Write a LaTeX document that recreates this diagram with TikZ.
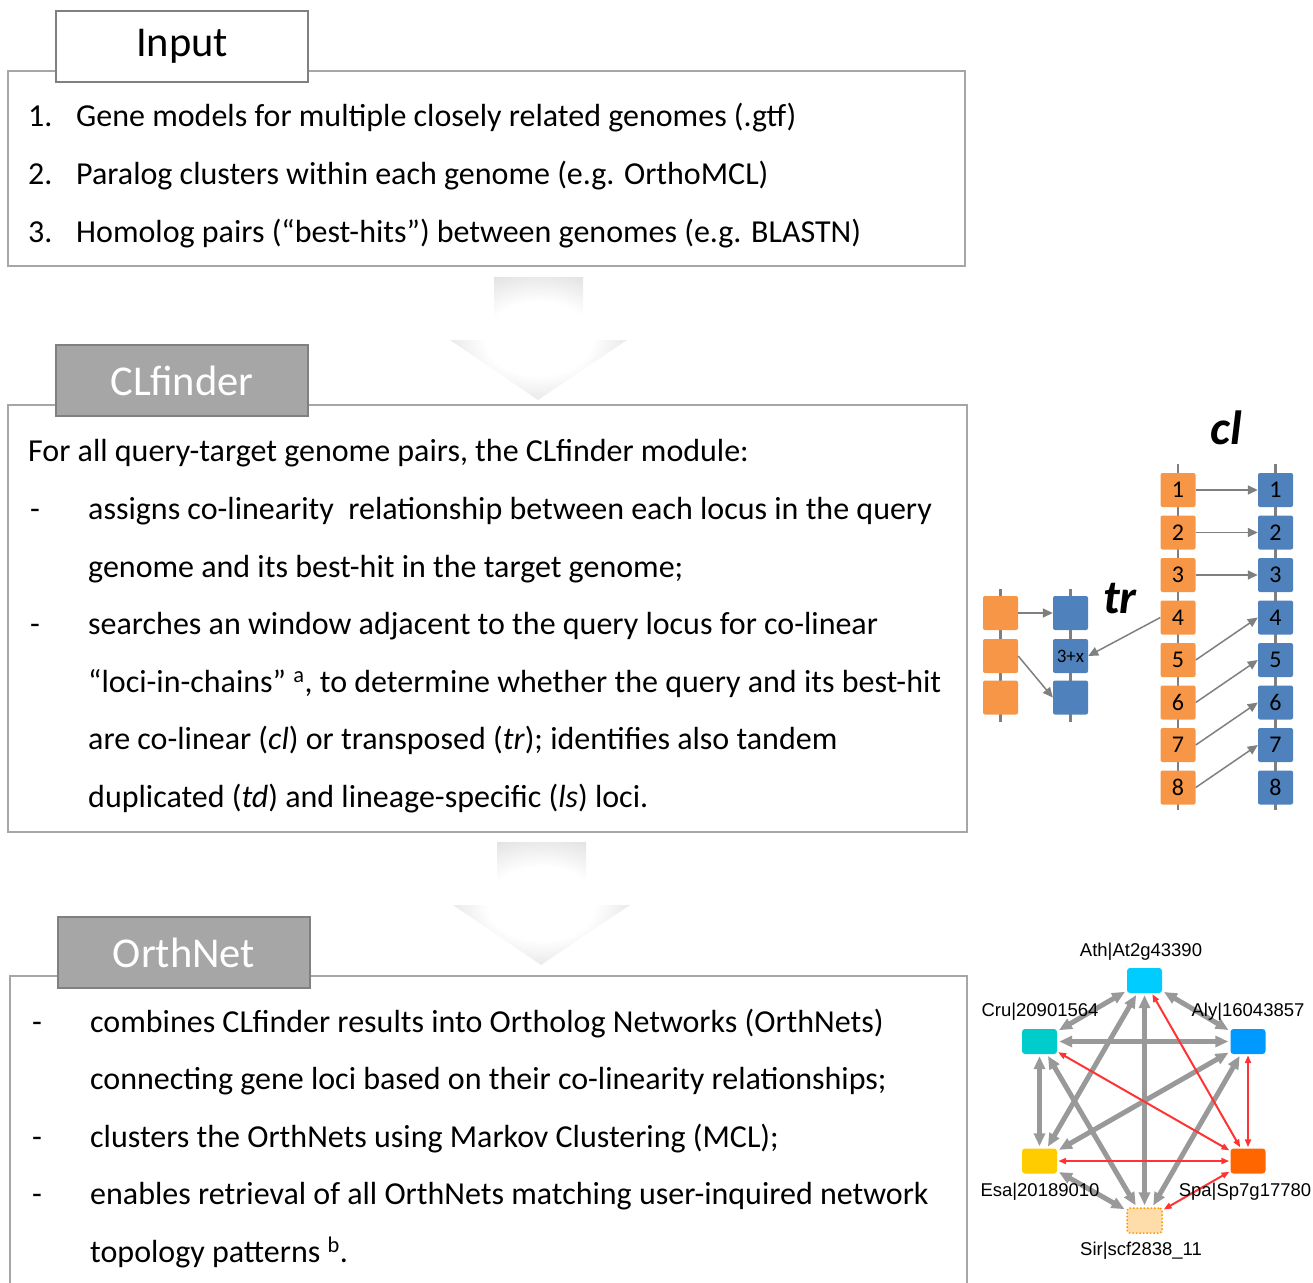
\documentclass[tikz,border=0pt]{standalone}
\usepackage{fontspec}
\setmainfont{Carlito}
\newfontfamily\netfont{Liberation Sans}
\usetikzlibrary{arrows.meta}

\definecolor{tabedge}{HTML}{808080}
\definecolor{panedge}{HTML}{A6A6A6}
\definecolor{tabfill}{HTML}{A6A6A6}
\definecolor{qorange}{HTML}{F79646}
\definecolor{tblue}{HTML}{4F81BD}
\definecolor{linkgray}{HTML}{7F7F7F}
\definecolor{netgray}{HTML}{999999}
\definecolor{netred}{HTML}{FF3333}
\definecolor{athc}{HTML}{00CCFF}
\definecolor{cruc}{HTML}{00CCCC}
\definecolor{alyc}{HTML}{0099FF}
\definecolor{esac}{HTML}{FFCC00}
\definecolor{spac}{HTML}{FF6600}
\definecolor{sirc}{HTML}{FFDDAA}
\definecolor{sire}{HTML}{FF9900}

% soft white-to-grey glow for the flow arrows
\pgfdeclareradialshading{arrowglow}{\pgfpoint{0bp}{0bp}}{%
  color(0bp)=(white); color(15bp)=(white); color(50bp)=(black!30)}

\begin{document}
\begin{tikzpicture}[x=1pt,y=-1pt,
  txt/.style={anchor=base west, inner sep=0pt, font=\fontsize{32}{38}\selectfont},
  tabw/.style={draw=tabedge, line width=2pt, fill=white, minimum width=252pt,
    minimum height=71pt, anchor=north west, inner sep=0pt,
    font=\fontsize{42.5}{50}\selectfont},
  tabg/.style={tabw, fill=tabfill, text=white},
  panel/.style={draw=panedge, line width=2pt},
  flowarrow/.style={shading=arrowglow},
  gbox/.style={minimum width=35pt, minimum height=34pt, inner sep=0pt,
    rounded corners=2pt, font=\fontsize{24}{24}\selectfont},
  gq/.style={gbox, fill=qorange},
  gt/.style={gbox, fill=tblue},
  spine/.style={draw=linkgray, line width=2.5pt},
  link/.style={draw=linkgray, line width=1.5pt, -{Triangle[length=10pt,width=9pt]}},
  tag/.style={inner sep=0pt, font=\fontsize{48}{56}\selectfont\bfseries\itshape},
  nnode/.style={minimum width=35pt, minimum height=25pt, inner sep=0pt, rounded corners=3pt},
  nlabel/.style={inner sep=0pt, font=\netfont\fontsize{18.5}{18.5}\selectfont},
  gedge/.style={draw=netgray, line width=5pt, shorten <=2pt, shorten >=2pt,
    {Triangle[length=13pt,width=11pt]}-{Triangle[length=13pt,width=11pt]}},
  redge/.style={draw=netred, line width=2pt, shorten <=1pt, shorten >=1pt,
    {Triangle[length=8pt,width=6pt]}-{Triangle[length=8pt,width=6pt]}}
]
\useasboundingbox (0,0) rectangle (1313,1282);

% ---------------- Input ----------------
\draw[panel] (8,71) rectangle (965,266);
\node[tabw] (inputtab) at (55,10) {Input};
\node[txt] (in1n) at (28,126) {1.};
\node[txt] (in1) at (76,126) {Gene models for multiple closely related genomes (.gtf)};
\node[txt] (in2n) at (28,184) {2.};
\node[txt] (in2) at (76,184) {Paralog clusters within each genome (e.g. OrthoMCL)};
\node[txt] (in3n) at (28,242) {3.};
\node[txt] (in3) at (76,242) {Homolog pairs (“best-hits”) between genomes (e.g. BLASTN)};

% flow arrow 1
\path[flowarrow] (494,277) -- (583,277) -- (583,340) -- (627,340) -- (538,400)
  -- (450,340) -- (494,340) -- cycle;

% ---------------- CLfinder ----------------
\draw[panel] (8,405) rectangle (967,832);
\node[tabg] (cltab) at (55,344) {CLfinder};
\node[txt] (c1) at (28,461) {For all query-target genome pairs, the CLfinder module:};
\node[txt] (c2d) at (30,519) {-};
\node[txt] (c2) at (88,519) {assigns co-linearity\ \ relationship between each locus in the query};
\node[txt] (c3) at (88,577) {genome and its best-hit in the target genome;};
\node[txt] (c4d) at (30,634) {-};
\node[txt] (c4) at (88,634) {searches an window adjacent to the query locus for co-linear};
\node[txt] (c5) at (88,692) {“loci-in-chains” \textsuperscript{a}, to determine whether the query and its best-hit};
\node[txt] (c6) at (88,749) {are co-linear (\textit{cl}) or transposed (\textit{tr}); identifies also tandem};
\node[txt] (c7) at (88,807) {duplicated (\textit{td}) and lineage-specific (\textit{ls}) loci.};

% flow arrow 2
\path[flowarrow] (497,842) -- (586,842) -- (586,905) -- (630,905) -- (541,965)
  -- (453,905) -- (497,905) -- cycle;

% ---------------- OrthNet ----------------
\draw[panel] (10,1295) -- (10,976) -- (967,976) -- (967,1295);
\node[tabg] (ontab) at (57,916) {OrthNet};
\node[txt] (o1d) at (32,1032) {-};
\node[txt] (o1) at (90,1032) {combines CLfinder results into Ortholog Networks (OrthNets)};
\node[txt] (o2) at (90,1089) {connecting gene loci based on their co-linearity relationships;};
\node[txt] (o3d) at (32,1147) {-};
\node[txt] (o3) at (90,1147) {clusters the OrthNets using Markov Clustering (MCL);};
\node[txt] (o4d) at (32,1204) {-};
\node[txt] (o4) at (90,1204) {enables retrieval of all OrthNets matching user-inquired network};
\node[txt] (o5) at (90,1262) {topology patterns \textsuperscript{b}.};

% ---------------- co-linear / transposed loci ----------------
\draw[spine] (1178,464) -- (1178,810);
\draw[spine] (1275.5,464) -- (1275.5,810);
\draw[spine] (1000.5,589) -- (1000.5,722);
\draw[spine] (1070.5,589) -- (1070.5,722);
\foreach \i/\yy in {1/490,2/532.5,3/575,4/617.5,5/660,6/702.5,7/745,8/787.5}{
  \node[gq] (q\i) at (1178,\yy) {\i};
  \node[gt] (t\i) at (1275.5,\yy) {\i};
}
\node[gq] (a1) at (1000.5,613) {};
\node[gq] (a2) at (1000.5,656) {};
\node[gq] (a3) at (1000.5,697.5) {};
\node[gt] (b1) at (1070.5,613) {};
\node[gt, font=\fontsize{19}{19}\selectfont] (b2) at (1070.5,656) {3+x};
\node[gt] (b3) at (1070.5,697.5) {};

\foreach \i in {1,2,3}{ \draw[link] (q\i.east) -- (t\i.west); }
\foreach \i/\j in {5/4,6/5,7/6,8/7}{ \draw[link] (q\i.east) -- (t\j.west); }
\draw[link] (q4.west) -- (b2.east);
\draw[link] (a1.east) -- (b1.west);
\draw[link] (a2.east) -- (b3.west);

\node[tag] (cltag) at (1226,428) {cl};
\node[tag] (trtag) at (1120,599) {tr};

% ---------------- ortholog network ----------------
\node[nnode, fill=athc] (ath) at (1144.5,980.5) {};
\node[nnode, fill=cruc] (cru) at (1039.5,1041.5) {};
\node[nnode, fill=alyc] (aly) at (1248,1041.5) {};
\node[nnode, fill=esac] (esa) at (1039.5,1161) {};
\node[nnode, fill=spac] (spa) at (1248,1161) {};
\node[nnode, fill=sirc, draw=sire, line width=1.5pt, dotted] (sir) at (1144.5,1220.5) {};

\draw[gedge] (ath) -- (cru);
\draw[gedge] (ath) -- (aly);
\draw[gedge] (cru) -- (aly);
\draw[gedge] (cru) -- (esa);
\draw[gedge] (ath) -- (esa);
\draw[gedge] (ath) -- (sir);
\draw[gedge] (cru) -- (sir);
\draw[gedge] (aly) -- (esa);
\draw[gedge] (aly) -- (sir);
\draw[gedge] (esa) -- (sir);

\draw[redge] (ath) -- (spa);
\draw[redge] (cru) -- (spa);
\draw[redge] (aly) -- (spa);
\draw[redge] (esa) -- (spa);
\draw[redge] (spa) -- (sir);

\node[nlabel] (athl) at (1141,952) {Ath|At2g43390};
\node[nlabel] (crul) at (1040,1012) {Cru|20901564};
\node[nlabel] (alyl) at (1248,1012) {Aly|16043857};
\node[nlabel] (esal) at (1040,1192) {Esa|20189010};
\node[nlabel] (spal) at (1245,1192) {Spa|Sp7g17780};
\node[nlabel] (sirl) at (1141,1251) {Sir|scf2838\_11};
\end{tikzpicture}
\end{document}
